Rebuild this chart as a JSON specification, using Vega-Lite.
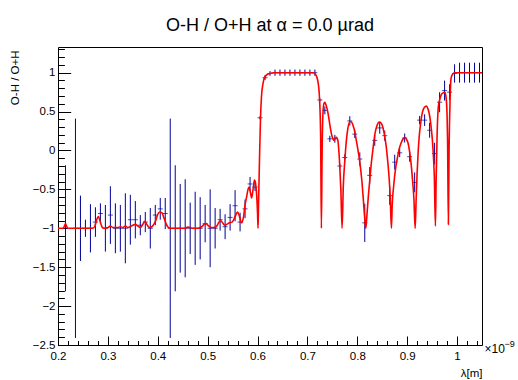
{
  "$schema": "https://vega.github.io/schema/vega-lite/v6.json",
  "width": 424,
  "height": 298,
  "autosize": "none",
  "padding": {"left": 58, "top": 47, "right": 36, "bottom": 35},
  "background": "white",
  "title": {"text": "O-H / O+H at α = 0.0 µrad", "fontSize": 18, "fontWeight": "normal", "font": "Liberation Sans", "anchor": "middle", "baseline": "alphabetic", "offset": 0, "dy": 2, "color": "black"},
  "config": {
    "font": "Liberation Sans",
    "view": {"stroke": "black", "strokeWidth": 1},
    "axis": {"grid": false, "domain": false, "labelColor": "black", "titleColor": "black", "tickColor": "black", "labelFont": "Liberation Sans", "titleFont": "Liberation Sans", "labelFontSize": 11.5, "titleFontSize": 11.5, "titleFontWeight": "normal", "labelFlush": false, "labelOverlap": false, "labelBound": false}
  },
  "datasets": {
    "pts": [
      {"x": 0.215, "y": -1.0, "err": 0.81},
      {"x": 0.235, "y": -1.0, "err": 1.41},
      {"x": 0.245, "y": -1.0, "err": 0.42},
      {"x": 0.255, "y": -1.0, "err": 0.11},
      {"x": 0.265, "y": -1.0, "err": 0.31},
      {"x": 0.275, "y": -0.92, "err": 0.19},
      {"x": 0.285, "y": -0.81, "err": 0.13},
      {"x": 0.295, "y": -1.0, "err": 0.30},
      {"x": 0.305, "y": -0.83, "err": 0.37},
      {"x": 0.315, "y": -1.0, "err": 0.32},
      {"x": 0.325, "y": -1.0, "err": 0.30},
      {"x": 0.335, "y": -1.0, "err": 0.45},
      {"x": 0.345, "y": -0.89, "err": 0.32},
      {"x": 0.355, "y": -0.89, "err": 0.24},
      {"x": 0.365, "y": -0.96, "err": 0.13},
      {"x": 0.375, "y": -0.92, "err": 0.13},
      {"x": 0.385, "y": -1.0, "err": 0.26},
      {"x": 0.395, "y": -0.83, "err": 0.13},
      {"x": 0.405, "y": -0.75, "err": 0.14},
      {"x": 0.415, "y": -0.81, "err": 0.20},
      {"x": 0.425, "y": -1.0, "err": 1.41},
      {"x": 0.435, "y": -1.0, "err": 0.81},
      {"x": 0.445, "y": -1.0, "err": 0.57},
      {"x": 0.455, "y": -1.0, "err": 0.63},
      {"x": 0.465, "y": -1.0, "err": 0.33},
      {"x": 0.475, "y": -1.0, "err": 0.47},
      {"x": 0.485, "y": -1.0, "err": 0.40},
      {"x": 0.495, "y": -0.94, "err": 0.24},
      {"x": 0.505, "y": -1.0, "err": 0.50},
      {"x": 0.515, "y": -1.0, "err": 0.26},
      {"x": 0.525, "y": -0.89, "err": 0.14},
      {"x": 0.535, "y": -0.98, "err": 0.16},
      {"x": 0.545, "y": -0.86, "err": 0.17},
      {"x": 0.555, "y": -0.71, "err": 0.20},
      {"x": 0.565, "y": -0.92, "err": 0.12},
      {"x": 0.575, "y": -0.75, "err": 0.12},
      {"x": 0.585, "y": -0.43, "err": 0.09},
      {"x": 0.595, "y": -0.47, "err": 0.05},
      {"x": 0.605, "y": 0.42, "err": 0.02},
      {"x": 0.615, "y": 0.935, "err": 0.03},
      {"x": 0.625, "y": 0.99, "err": 0.03},
      {"x": 0.635, "y": 1.0, "err": 0.04},
      {"x": 0.645, "y": 1.0, "err": 0.04},
      {"x": 0.655, "y": 1.0, "err": 0.04},
      {"x": 0.665, "y": 1.0, "err": 0.04},
      {"x": 0.675, "y": 1.0, "err": 0.04},
      {"x": 0.685, "y": 1.0, "err": 0.04},
      {"x": 0.695, "y": 1.0, "err": 0.04},
      {"x": 0.705, "y": 1.0, "err": 0.04},
      {"x": 0.715, "y": 1.0, "err": 0.04},
      {"x": 0.725, "y": 0.65, "err": 0.02},
      {"x": 0.735, "y": 0.515, "err": 0.05},
      {"x": 0.745, "y": 0.15, "err": 0.04},
      {"x": 0.755, "y": 0.15, "err": 0.05},
      {"x": 0.765, "y": -0.2, "err": 0.03},
      {"x": 0.775, "y": -0.09, "err": 0.04},
      {"x": 0.785, "y": 0.38, "err": 0.06},
      {"x": 0.795, "y": 0.21, "err": 0.05},
      {"x": 0.805, "y": -0.11, "err": 0.086},
      {"x": 0.815, "y": -0.93, "err": 0.246},
      {"x": 0.825, "y": -0.32, "err": 0.107},
      {"x": 0.835, "y": 0.13, "err": 0.07},
      {"x": 0.845, "y": 0.29, "err": 0.075},
      {"x": 0.855, "y": 0.19, "err": 0.065},
      {"x": 0.865, "y": -0.58, "err": 0.118},
      {"x": 0.875, "y": -0.15, "err": 0.096},
      {"x": 0.885, "y": -0.03, "err": 0.055},
      {"x": 0.895, "y": 0.16, "err": 0.058},
      {"x": 0.905, "y": -0.08, "err": 0.064},
      {"x": 0.915, "y": -0.41, "err": 0.128},
      {"x": 0.925, "y": 0.39, "err": 0.054},
      {"x": 0.935, "y": 0.39, "err": 0.075},
      {"x": 0.945, "y": 0.26, "err": 0.096},
      {"x": 0.955, "y": -0.04, "err": 0.139},
      {"x": 0.965, "y": 0.62, "err": 0.128},
      {"x": 0.975, "y": 0.77, "err": 0.128},
      {"x": 0.985, "y": 0.75, "err": 0.1},
      {"x": 0.995, "y": 0.99, "err": 0.118},
      {"x": 1.005, "y": 1.0, "err": 0.128},
      {"x": 1.015, "y": 1.0, "err": 0.128},
      {"x": 1.025, "y": 1.0, "err": 0.128},
      {"x": 1.035, "y": 1.0, "err": 0.128},
      {"x": 1.045, "y": 1.0, "err": 0.128}
    ],
    "curve": [
      {"x": 0.2, "y": -1.0}, {"x": 0.21, "y": -1.0}, {"x": 0.213, "y": -0.97}, {"x": 0.215, "y": -0.94}, {"x": 0.217, "y": -0.97}, {"x": 0.22, "y": -1.0},
      {"x": 0.27, "y": -1.0}, {"x": 0.274, "y": -0.97}, {"x": 0.278, "y": -0.88}, {"x": 0.281, "y": -0.85}, {"x": 0.284, "y": -0.9}, {"x": 0.288, "y": -0.98}, {"x": 0.292, "y": -1.0},
      {"x": 0.3, "y": -0.99}, {"x": 0.305, "y": -0.97}, {"x": 0.31, "y": -0.99}, {"x": 0.32, "y": -0.99}, {"x": 0.325, "y": -0.98}, {"x": 0.33, "y": -0.99}, {"x": 0.335, "y": -0.97},
      {"x": 0.34, "y": -0.99}, {"x": 0.345, "y": -0.98}, {"x": 0.35, "y": -0.96}, {"x": 0.355, "y": -0.95}, {"x": 0.36, "y": -0.97}, {"x": 0.365, "y": -0.99}, {"x": 0.37, "y": -0.95},
      {"x": 0.374, "y": -0.91}, {"x": 0.378, "y": -0.95}, {"x": 0.383, "y": -0.99}, {"x": 0.388, "y": -0.98}, {"x": 0.392, "y": -0.95}, {"x": 0.396, "y": -0.9}, {"x": 0.4, "y": -0.82},
      {"x": 0.404, "y": -0.79}, {"x": 0.408, "y": -0.8}, {"x": 0.412, "y": -0.86}, {"x": 0.416, "y": -0.93}, {"x": 0.42, "y": -0.98}, {"x": 0.425, "y": -1.0},
      {"x": 0.455, "y": -1.0}, {"x": 0.46, "y": -0.985}, {"x": 0.465, "y": -0.99}, {"x": 0.47, "y": -1.0}, {"x": 0.48, "y": -1.0}, {"x": 0.488, "y": -0.98}, {"x": 0.493, "y": -0.95},
      {"x": 0.497, "y": -0.94}, {"x": 0.502, "y": -0.97}, {"x": 0.507, "y": -0.99}, {"x": 0.512, "y": -0.99}, {"x": 0.517, "y": -0.98}, {"x": 0.522, "y": -0.93}, {"x": 0.526, "y": -0.9},
      {"x": 0.53, "y": -0.93}, {"x": 0.534, "y": -0.96}, {"x": 0.538, "y": -0.95}, {"x": 0.544, "y": -0.93}, {"x": 0.549, "y": -0.92}, {"x": 0.553, "y": -0.88}, {"x": 0.557, "y": -0.82},
      {"x": 0.56, "y": -0.79}, {"x": 0.564, "y": -0.85}, {"x": 0.568, "y": -0.93}, {"x": 0.572, "y": -0.85}, {"x": 0.575, "y": -0.7}, {"x": 0.578, "y": -0.6}, {"x": 0.581, "y": -0.5},
      {"x": 0.583, "y": -0.47}, {"x": 0.586, "y": -0.55}, {"x": 0.588, "y": -0.61}, {"x": 0.59, "y": -0.55}, {"x": 0.592, "y": -0.45}, {"x": 0.594, "y": -0.38}, {"x": 0.596, "y": -0.42},
      {"x": 0.598, "y": -0.55}, {"x": 0.6, "y": -0.8}, {"x": 0.601, "y": -1.0}, {"x": 0.602, "y": -0.7}, {"x": 0.604, "y": -0.1}, {"x": 0.606, "y": 0.42}, {"x": 0.608, "y": 0.7},
      {"x": 0.611, "y": 0.86}, {"x": 0.614, "y": 0.94}, {"x": 0.619, "y": 0.975}, {"x": 0.624, "y": 0.99}, {"x": 0.634, "y": 1.0},
      {"x": 0.711, "y": 1.0}, {"x": 0.716, "y": 0.98}, {"x": 0.719, "y": 0.94}, {"x": 0.722, "y": 0.85}, {"x": 0.724, "y": 0.7}, {"x": 0.7265, "y": 0.2}, {"x": 0.728, "y": -1.0},
      {"x": 0.7295, "y": 0.0}, {"x": 0.731, "y": 0.45}, {"x": 0.733, "y": 0.6}, {"x": 0.735, "y": 0.62}, {"x": 0.738, "y": 0.57}, {"x": 0.741, "y": 0.49}, {"x": 0.745, "y": 0.33},
      {"x": 0.748, "y": 0.22}, {"x": 0.751, "y": 0.15}, {"x": 0.753, "y": 0.13}, {"x": 0.756, "y": 0.16}, {"x": 0.758, "y": 0.17}, {"x": 0.761, "y": 0.13}, {"x": 0.763, "y": 0.0},
      {"x": 0.765, "y": -0.22}, {"x": 0.767, "y": -0.5}, {"x": 0.7695, "y": -1.0}, {"x": 0.772, "y": -0.45}, {"x": 0.775, "y": -0.13}, {"x": 0.778, "y": 0.12}, {"x": 0.781, "y": 0.28},
      {"x": 0.785, "y": 0.37}, {"x": 0.788, "y": 0.37}, {"x": 0.791, "y": 0.33}, {"x": 0.795, "y": 0.24}, {"x": 0.798, "y": 0.13}, {"x": 0.802, "y": -0.02}, {"x": 0.805, "y": -0.15},
      {"x": 0.809, "y": -0.38}, {"x": 0.812, "y": -0.62}, {"x": 0.815, "y": -0.88}, {"x": 0.817, "y": -1.0}, {"x": 0.819, "y": -0.86}, {"x": 0.822, "y": -0.6}, {"x": 0.825, "y": -0.38},
      {"x": 0.828, "y": -0.17}, {"x": 0.832, "y": 0.05}, {"x": 0.835, "y": 0.2}, {"x": 0.839, "y": 0.31}, {"x": 0.844, "y": 0.365}, {"x": 0.848, "y": 0.35}, {"x": 0.852, "y": 0.28},
      {"x": 0.855, "y": 0.18}, {"x": 0.858, "y": 0.05}, {"x": 0.861, "y": -0.14}, {"x": 0.864, "y": -0.37}, {"x": 0.866, "y": -0.6}, {"x": 0.8684, "y": -1.0}, {"x": 0.87, "y": -0.7},
      {"x": 0.873, "y": -0.45}, {"x": 0.877, "y": -0.22}, {"x": 0.88, "y": -0.11}, {"x": 0.884, "y": 0.02}, {"x": 0.888, "y": 0.1}, {"x": 0.892, "y": 0.15}, {"x": 0.895, "y": 0.17},
      {"x": 0.898, "y": 0.15}, {"x": 0.902, "y": 0.09}, {"x": 0.905, "y": -0.02}, {"x": 0.9085, "y": -0.21}, {"x": 0.911, "y": -0.4}, {"x": 0.9135, "y": -0.62}, {"x": 0.916, "y": -1.0},
      {"x": 0.918, "y": -0.62}, {"x": 0.92, "y": -0.28}, {"x": 0.922, "y": -0.02}, {"x": 0.924, "y": 0.17}, {"x": 0.927, "y": 0.35}, {"x": 0.9305, "y": 0.49}, {"x": 0.934, "y": 0.55},
      {"x": 0.9386, "y": 0.57}, {"x": 0.942, "y": 0.53}, {"x": 0.9452, "y": 0.44}, {"x": 0.948, "y": 0.3}, {"x": 0.9506, "y": 0.13}, {"x": 0.953, "y": -0.12}, {"x": 0.9545, "y": -0.35},
      {"x": 0.9566, "y": -0.97}, {"x": 0.958, "y": -0.4}, {"x": 0.96, "y": 0.2}, {"x": 0.9626, "y": 0.57}, {"x": 0.966, "y": 0.67}, {"x": 0.9686, "y": 0.72}, {"x": 0.972, "y": 0.74},
      {"x": 0.9753, "y": 0.75}, {"x": 0.978, "y": 0.68}, {"x": 0.98, "y": 0.45}, {"x": 0.981, "y": 0.13}, {"x": 0.9826, "y": -0.95}, {"x": 0.984, "y": 0.0}, {"x": 0.986, "y": 0.65},
      {"x": 0.988, "y": 0.93}, {"x": 0.991, "y": 0.98}, {"x": 0.995, "y": 1.0}, {"x": 1.05, "y": 1.0}
    ]
  },
  "layer": [
    {
      "data": {"name": "pts"},
      "mark": {"type": "errorbar", "color": "#000099", "thickness": 1, "clip": true},
      "encoding": {
        "x": {"field": "x", "type": "quantitative", "scale": {"domain": [0.2, 1.05], "nice": false, "zero": false},
          "axis": {"orient": "bottom", "values": [0.2, 0.3, 0.4, 0.5, 0.6, 0.7, 0.8, 0.9, 1.0], "labelExpr": "format(datum.value, '~g')", "ticks": false, "labelPadding": 5, "labelBaseline": "top",
            "title": "λ[m]", "titleAnchor": "end", "titleAlign": "right", "titleBaseline": "alphabetic", "titleX": 424, "titleY": 31}},
        "y": {"field": "y", "type": "quantitative", "scale": {"domain": [-2.5, 1.33], "nice": false, "zero": false},
          "axis": {"orient": "left", "values": [-2.5, -2, -1.5, -1, -0.5, 0, 0.5, 1], "labelExpr": "replace(format(datum.value, '~g'), '-', '−')", "ticks": false, "labelPadding": 3,
            "title": "O-H / O+H", "titleAngle": -90, "titleAnchor": "end", "titleAlign": "right", "titleBaseline": "middle", "titleX": -43, "titleY": 3}},
        "yError": {"field": "err"}
      }
    },
    {
      "data": {"name": "pts"},
      "mark": {"type": "tick", "orient": "horizontal", "color": "#000099", "size": 5, "thickness": 1, "clip": true},
      "encoding": {
        "x": {"field": "x", "type": "quantitative", "scale": {"domain": [0.2, 1.05], "nice": false, "zero": false},
          "axis": {"orient": "bottom", "values": [0.2, 0.3, 0.4, 0.5, 0.6, 0.7, 0.8, 0.9, 1.0], "labels": false, "tickSize": -9, "tickWidth": 1,
            "title": "×10", "titleFontSize": 12, "titleAlign": "left", "titleBaseline": "alphabetic", "titleX": 426, "titleY": 7}},
        "y": {"field": "y", "type": "quantitative", "scale": {"domain": [-2.5, 1.33], "nice": false, "zero": false},
          "axis": {"orient": "left", "values": [-2.5, -2, -1.5, -1, -0.5, 0, 0.5, 1], "labels": false, "tickSize": -12.7, "tickWidth": 1, "title": null}}
      }
    },
    {
      "data": {"name": "curve"},
      "mark": {"type": "line", "color": "#ff0000", "strokeWidth": 1.6, "interpolate": "monotone", "clip": true},
      "encoding": {
        "x": {"field": "x", "type": "quantitative", "scale": {"domain": [0.2, 1.05], "nice": false, "zero": false},
          "axis": {"orient": "bottom", "values": [0.2, 0.22, 0.24, 0.26, 0.28, 0.3, 0.32, 0.34, 0.36, 0.38, 0.4, 0.42, 0.44, 0.46, 0.48, 0.5, 0.52, 0.54, 0.56, 0.58, 0.6, 0.62, 0.64, 0.66, 0.68, 0.7, 0.72, 0.74, 0.76, 0.78, 0.8, 0.82, 0.84, 0.86, 0.88, 0.9, 0.92, 0.94, 0.96, 0.98, 1.0, 1.02, 1.04],
            "labels": false, "tickSize": -4.5, "tickWidth": 1,
            "title": "−9", "titleFontSize": 9, "titleAlign": "left", "titleBaseline": "alphabetic", "titleX": 446, "titleY": 1}},
        "y": {"field": "y", "type": "quantitative", "scale": {"domain": [-2.5, 1.33], "nice": false, "zero": false},
          "axis": {"orient": "left", "values": [-2.5, -2.4, -2.3, -2.2, -2.1, -2, -1.9, -1.8, -1.7, -1.6, -1.5, -1.4, -1.3, -1.2, -1.1, -1, -0.9, -0.8, -0.7, -0.6, -0.5, -0.4, -0.3, -0.2, -0.1, 0, 0.1, 0.2, 0.3, 0.4, 0.5, 0.6, 0.7, 0.8, 0.9, 1, 1.1, 1.2, 1.3],
            "labels": false, "tickSize": -6.4, "tickWidth": 1, "title": null}}
      }
    }
  ],
  "resolve": {"axis": {"x": "independent", "y": "independent"}}
}
